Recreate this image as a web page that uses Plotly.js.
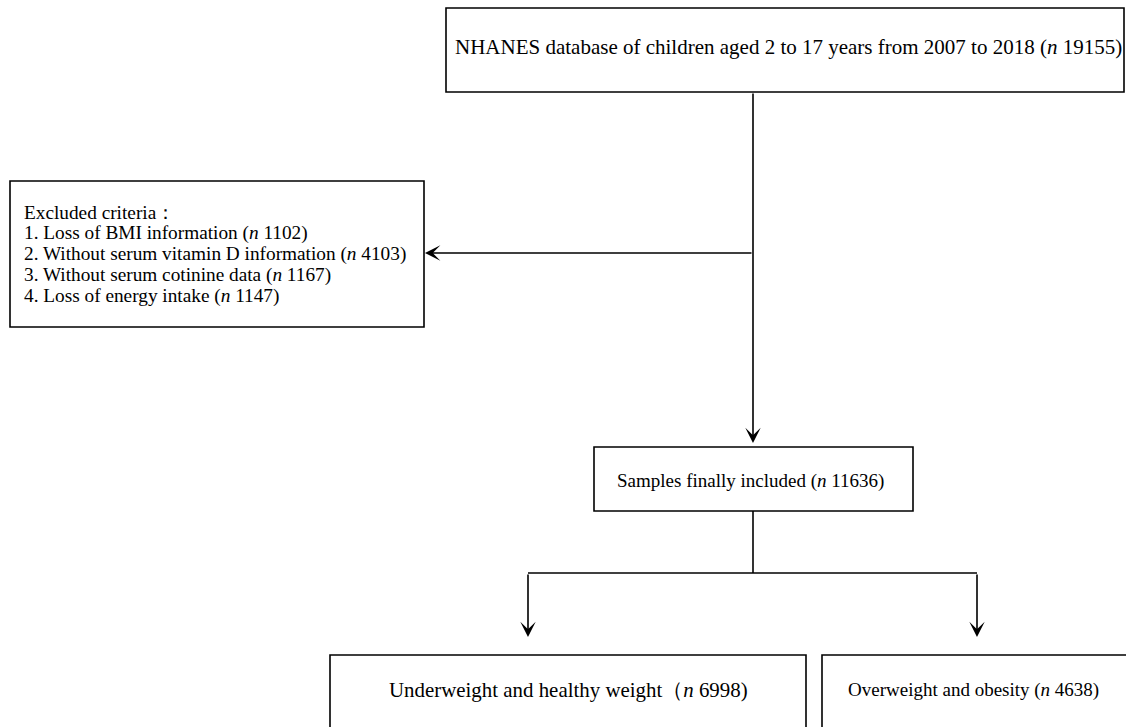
<!DOCTYPE html>
<html>
<head>
<meta charset="utf-8">
<script src="https://cdn.plot.ly/plotly-3.0.1.min.js"></script>
<style>html,body{margin:0;padding:0;background:#fff;}#chart{width:1126px;height:727px;}</style>
</head>
<body>
<div id="chart"></div>
<script>
// Flowchart content
const stepLabels = [
  "NHANES database of children aged 2 to 17 years from 2007 to 2018",
  "Samples finally included",
  "Underweight and healthy weight",
  "Overweight and obesity"
];
const stepN = [19155, 11636, 6998, 4638];
const exclusionTitle = "Excluded criteria：";
const exclusionLabels = [
  "Loss of BMI information",
  "Without serum vitamin D information",
  "Without serum cotinine data",
  "Loss of energy intake"
];
const exclusionN = [1102, 4103, 1167, 1147];

// Layout geometry (pixel space of the figure)
const boxes = {
  top:      [446, 8, 1124, 92],
  excl:     [10, 181, 424, 327],
  samples:  [594, 447, 913, 511],
  left:     [330, 655, 806, 745],
  right:    [822, 655, 1130, 745]
};
const fam = "Liberation Serif, Times New Roman, serif";
function f(size) { return {family: fam, size: size, color: "#000"}; }
const lineStyle = {color: "#000", width: 1.6};

const shapes = Object.values(boxes).map(b => ({
  type: "rect", xref: "x", yref: "y", x0: b[0], y0: b[1], x1: b[2], y1: b[3],
  line: {color: "#000", width: 1.6}, fillcolor: "rgba(0,0,0,0)"
}));
shapes.push({type: "line", xref: "x", yref: "y", x0: 753, y0: 511, x1: 753, y1: 573, line: lineStyle});
shapes.push({type: "line", xref: "x", yref: "y", x0: 528, y0: 573, x1: 977, y1: 573, line: lineStyle});

function arrow(x0, y0, x1, y1) {
  return {x: x1, y: y1, ax: x0, ay: y0, xref: "x", yref: "y", axref: "x", ayref: "y",
    text: "", showarrow: true, arrowhead: 3, arrowsize: 1.6, arrowwidth: 1.6, arrowcolor: "#000"};
}
function label(x, y, text, size, opts) {
  return Object.assign({x: x, y: y, xref: "x", yref: "y", text: text, showarrow: false,
    font: f(size), xanchor: "center", yanchor: "middle"}, opts || {});
}

const annotations = [
  arrow(753, 92, 753, 443),
  arrow(753, 253, 425, 253),
  arrow(528, 573, 528, 637),
  arrow(977, 573, 977, 637),
  label(788, 47, stepLabels[0] + " (<i>n</i> " + stepN[0] + ")", 21),
  label(750, 481, stepLabels[1] + " (<i>n</i> " + stepN[1] + ")", 19),
  label(568, 690, stepLabels[2] + "（<i>n</i> " + stepN[2] + ")", 20.9),
  label(973, 690, stepLabels[3] + " (<i>n</i> " + stepN[3] + ")", 19)
];
const exclLines = [exclusionTitle].concat(exclusionLabels.map((t, i) =>
  (i + 1) + ". " + t + " (<i>n</i> " + exclusionN[i] + ")"));
const exclY = [212, 233, 254, 275, 296];
exclLines.forEach((t, i) => annotations.push(label(22, exclY[i], t, 19.3, {xanchor: "left", align: "left"})));

const layout = {
  width: 1126, height: 727,
  margin: {l: 0, r: 0, t: 0, b: 0},
  paper_bgcolor: "#fff", plot_bgcolor: "#fff",
  showlegend: false,
  xaxis: {range: [0, 1126], visible: false, fixedrange: true},
  yaxis: {range: [727, 0], visible: false, fixedrange: true},
  shapes: shapes,
  annotations: annotations
};
Plotly.newPlot("chart", [], layout, {displayModeBar: false, staticPlot: true});
</script>
</body>
</html>
